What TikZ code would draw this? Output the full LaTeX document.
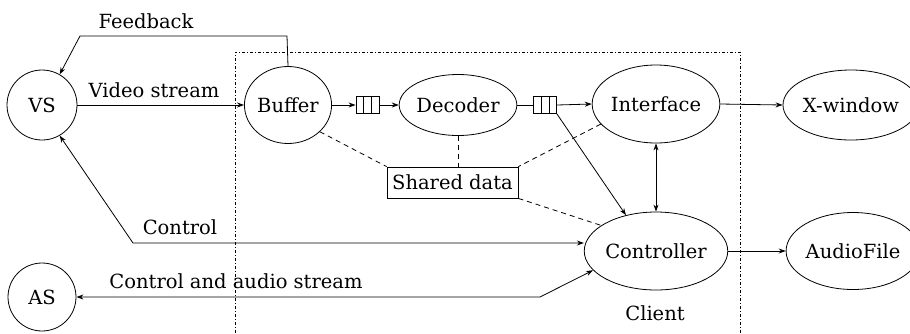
\documentclass[tikz,border=0pt]{standalone}
\usepackage{fontspec}
\setmainfont{DejaVu Serif}
\usetikzlibrary{shapes.geometric,arrows.meta,calc}
\begin{document}
\begin{tikzpicture}[x=1pt,y=-1pt,
  font=\fontsize{19.5}{23}\selectfont,
  every node/.style={inner sep=0pt},
  line width=0.8pt,
  el/.style={draw,ellipse},
  ci/.style={draw,circle},
  tip/.style={-{Stealth[length=7pt,width=5pt]}},
  dtip/.style={{Stealth[length=7pt,width=5pt]}-{Stealth[length=7pt,width=5pt]}},
  dsh/.style={dash pattern=on 5pt off 4pt},
  frame/.style={line width=0.7pt,dash pattern=on 3pt off 2pt on 1pt off 2pt},
  queue/.style={draw,minimum width=23pt,minimum height=17pt}
]
\useasboundingbox (0,0) rectangle (910,333);

% client frame
\draw[frame] (235,333) -- (235,52) -- (740,52) -- (740,333);

% nodes
\node[ci,minimum size=70pt] (VS) at (42,105) {VS};
\node[ci,minimum size=68pt] (AS) at (42,297) {AS};
\node[el,minimum width=78pt,minimum height=77pt] (Buffer) at (288,105) {Buffer};
\node[el,minimum width=108pt,minimum height=61pt] (Decoder) at (458,105) {Decoder};
\node[el,minimum width=107pt,minimum height=78pt] (Interface) at (656,104) {Interface};
\node[el,minimum width=115pt,minimum height=70pt] (Xwin) at (851,105) {X-window};
\node[el,minimum width=122pt,minimum height=78pt] (Controller) at (656,251) {Controller};
\node[el,minimum width=110pt,minimum height=77pt] (Audio) at (853,251) {AudioFile};
\node[draw,minimum width=131pt,minimum height=31pt] (Shared) at (452.5,182.5) {Shared data};
\node[queue] (q1) at (367.5,105) {};
\node[queue] (q2) at (545,105) {};
\foreach \q in {q1,q2}{
  \draw ($(\q.north west)!1/3!(\q.north east)$) -- ($(\q.south west)!1/3!(\q.south east)$);
  \draw ($(\q.north west)!2/3!(\q.north east)$) -- ($(\q.south west)!2/3!(\q.south east)$);
}

% labels
\node (lFeed) at (146,21) {Feedback};
\node (lVideo) at (154,90) {Video stream};
\node (lCtrl) at (180,227) {Control};
\node (lCAS) at (236,281) {Control and audio stream};
\node (lClient) at (655,313) {Client};

% coordinates for bends
\coordinate (fb1) at (287,36);
\coordinate (fb2) at (80,36);
\coordinate (cb) at (133,243);
\coordinate (ab) at (540,297);

% connectors
\draw[tip] (Buffer.north) -- (fb1) -- (fb2) -- (VS.60);
\draw[tip] (VS.east) -- (Buffer.west);
\draw[dtip] (VS.-60) -- (cb) -- (cb -| Controller.west);
\draw[dtip] (AS.east) -- (ab) -- (Controller.197);
\draw[tip] (Buffer.east) -- (q1.west);
\draw[tip] (q1.east) -- (Decoder.west);
\draw (Decoder.east) -- (q2.west);
\draw[tip] (q2.east) -- (Interface.west);
\draw[tip] (q2.south east) -- (Controller.130);
\draw[dtip] (Interface.south) -- (Controller.north);
\draw[tip] (Interface.east) -- (Xwin.west);
\draw[tip] (Controller.east) -- (Audio.west);

% shared data dashed links
\draw[dsh] (Buffer.-40) -- (Shared.north west);
\draw[dsh] (Decoder.south) -- (Decoder.south |- Shared.north);
\draw[dsh] (Interface.200) -- (Shared.north east);
\draw[dsh] (Shared.south east) -- (Controller.155);
\end{tikzpicture}
\end{document}
